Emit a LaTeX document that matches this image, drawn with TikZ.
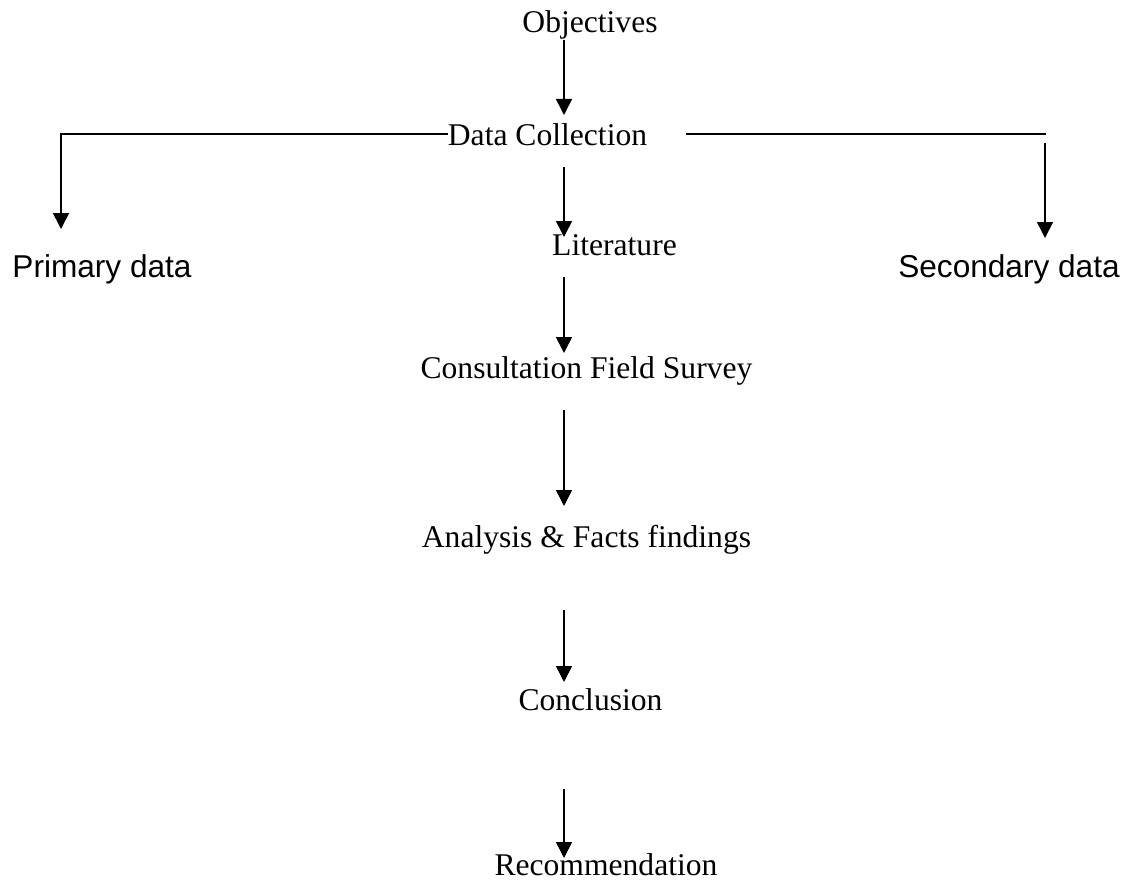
\documentclass[tikz,border=0pt]{standalone}
\usepackage{fontspec}
\setmainfont{Liberation Serif}
\setsansfont{Liberation Sans}
\usetikzlibrary{arrows.meta}
\begin{document}
\begin{tikzpicture}[x=1pt,y=-1pt,
  lbl/.style={inner sep=0pt, anchor=base, font=\fontsize{31.6}{38}\selectfont},
  slbl/.style={inner sep=0pt, anchor=base, font=\fontsize{31.6}{38}\selectfont\sffamily},
  arr/.style={line width=1.6pt, -{Triangle[width=16pt,length=16pt]}},
  ln/.style={line width=1.6pt}]
\useasboundingbox (0,0) rectangle (1126,880);

% text nodes
\node[lbl] (obj) at (590,33) {Objectives};
\node[lbl] (dc) at (547.5,145) {Data Collection};
\node[lbl] (lit) at (614.5,255) {Literature};
\node[lbl] (cfs) at (586.5,378) {Consultation Field Survey};
\node[lbl] (afd) at (586.5,547) {Analysis \& Facts findings};
\node[lbl] (con) at (590.5,710) {Conclusion};
\node[lbl] (rec) at (606,875) {Recommendation};
\node[slbl] (pd) at (102,277) {Primary data};
\node[slbl] (sd) at (1009,277) {Secondary data};

% connector end points
\coordinate (a1s) at (564,40);  \coordinate (a1e) at (564,115);
\coordinate (a2s) at (564,167); \coordinate (a2e) at (564,237);
\coordinate (a3s) at (564,277); \coordinate (a3e) at (564,353);
\coordinate (a4s) at (564,410); \coordinate (a4e) at (564,506);
\coordinate (a5s) at (564,610); \coordinate (a5e) at (564,682);
\coordinate (a6s) at (564,789); \coordinate (a6e) at (564,858);
\coordinate (ptip) at (61,229);
\coordinate (rl1) at (686,134); \coordinate (rl2) at (1046,134);
\coordinate (rs) at (1045,143); \coordinate (rt) at (1045,238);

% connectors
\draw[arr] (a1s) -- (a1e);
\draw[arr] (a2s) -- (a2e);
\draw[arr] (a3s) -- (a3e);
\draw[arr] (a4s) -- (a4e);
\draw[arr] (a5s) -- (a5e);
\draw[arr] (a6s) -- (a6e);
\draw[arr] (dc.west) -| (ptip);
\draw[ln] (rl1) -- (rl2);
\draw[arr] (rs) -- (rt);
\end{tikzpicture}
\end{document}
